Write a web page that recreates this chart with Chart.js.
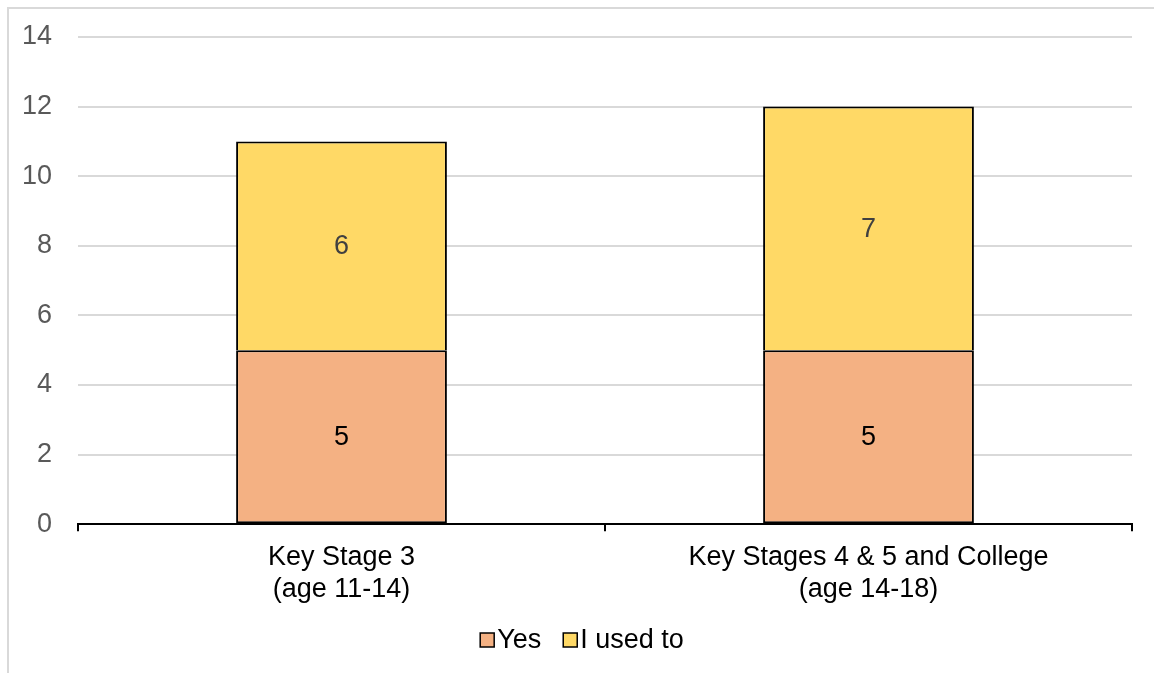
<!DOCTYPE html>
<html>
<head>
<meta charset="utf-8">
<script src="https://cdn.jsdelivr.net/npm/chart.js@4"></script>
<style>
  html, body { margin: 0; padding: 0; background: #fff; }
  #wrap { position: relative; width: 1154px; height: 673px; overflow: hidden; }
  #frame { position: absolute; left: 7px; top: 7px; width: 1200px; height: 700px;
           border-left: 2px solid #d9d9d9; border-top: 2px solid #d9d9d9; }
  canvas { position: absolute; left: 0; top: 0; }
</style>
</head>
<body>
<div id="wrap">
  <div id="frame"></div>
  <canvas id="c" width="1154" height="673"></canvas>
</div>
<script>
const categories = [["Key Stage 3", "(age 11-14)"], ["Key Stages 4 & 5 and College", "(age 14-18)"]];
const yesValues = [5, 5];
const usedToValues = [6, 7];
const yTicks = [0, 2, 4, 6, 8, 10, 12, 14];

const FONT = '"Liberation Sans", Arial, sans-serif';
const FONT_SIZE = 27;

// Writes each segment's value in the middle of its bar
const valueLabels = {
  id: 'valueLabels',
  afterDatasetsDraw(chart) {
    const ctx = chart.ctx;
    ctx.save();
    ctx.font = FONT_SIZE + 'px ' + FONT;
    ctx.textAlign = 'center';
    ctx.textBaseline = 'middle';
    chart.data.datasets.forEach((ds, i) => {
      const meta = chart.getDatasetMeta(i);
      meta.data.forEach((bar, j) => {
        const mid = (bar.y + bar.base) / 2;
        ctx.fillStyle = ds.labelColor;
        ctx.fillText(String(ds.data[j]), bar.x, mid + 1);
      });
    });
    ctx.restore();
  }
};

// Compact legend under the axis: small outlined squares tight against their text
const bottomLegend = {
  id: 'bottomLegend',
  afterDraw(chart) {
    const ctx = chart.ctx;
    const box = 14, gap = 3, spacing = 22, cy = 640;
    ctx.save();
    ctx.font = FONT_SIZE + 'px ' + FONT;
    ctx.textBaseline = 'middle';
    const items = chart.data.datasets.map(ds => ({ text: ds.label, color: ds.backgroundColor,
      w: ctx.measureText(ds.label).width }));
    const total = items.reduce((s, it) => s + box + gap + it.w, 0) + spacing * (items.length - 1);
    let x = chart.width / 2 + 5 - total / 2;
    items.forEach(it => {
      ctx.fillStyle = it.color;
      ctx.fillRect(x, cy - box / 2, box, box);
      ctx.strokeStyle = '#000';
      ctx.lineWidth = 1.5;
      ctx.strokeRect(x, cy - box / 2, box, box);
      ctx.fillStyle = '#000';
      ctx.fillText(it.text, x + box + gap, cy + 1);
      x += box + gap + it.w + spacing;
    });
    ctx.restore();
  }
};

Chart.defaults.font.family = FONT;
Chart.defaults.font.size = FONT_SIZE;

new Chart(document.getElementById('c'), {
  type: 'bar',
  data: {
    labels: categories,
    datasets: [
      { label: 'Yes', data: yesValues, backgroundColor: '#F4B183', borderColor: '#000',
        borderWidth: 2, borderSkipped: false, labelColor: '#000' },
      { label: 'I used to', data: usedToValues, backgroundColor: '#FFD966', borderColor: '#000',
        borderWidth: 2, borderSkipped: 'start', labelColor: '#404040' }
    ]
  },
  options: {
    responsive: false,
    animation: false,
    layout: { padding: { left: 22, right: 22, top: 37, bottom: 57 } },
    datasets: { bar: { barPercentage: 0.4, categoryPercentage: 1.0 } },
    plugins: {
      legend: { display: false },
      tooltip: { enabled: false }
    },
    scales: {
      x: {
        stacked: true,
        offset: true,
        grid: { offset: true, drawOnChartArea: false, drawTicks: true, tickLength: 7, color: '#000', lineWidth: 2 },
        border: { color: '#000', width: 2 },
        ticks: { color: '#000', padding: 10, maxRotation: 0 }
      },
      y: {
        stacked: true,
        min: 0, max: 14,
        afterBuildTicks(scale) { scale.ticks = yTicks.map(v => ({ value: v })); },
        afterFit(scale) { scale.width = 56; scale.paddingTop = 0; scale.paddingBottom = 0; },
        grid: { color: '#d9d9d9', lineWidth: 2, drawTicks: false },
        border: { display: false },
        ticks: { color: '#595959', padding: 26 }
      }
    }
  },
  plugins: [valueLabels, bottomLegend]
});
</script>
</body>
</html>
